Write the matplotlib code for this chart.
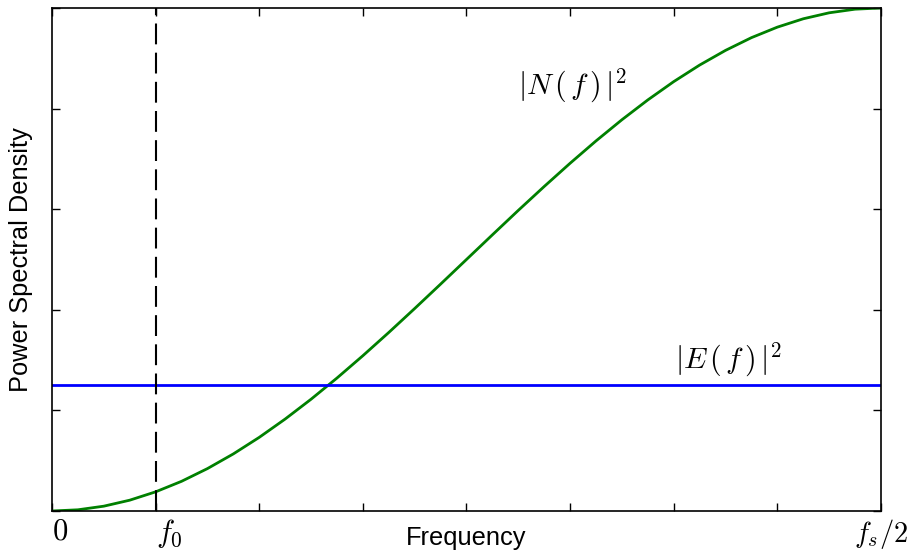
import matplotlib
matplotlib.use("Agg")
import matplotlib.pyplot as plt

plt.rcParams['mathtext.fontset'] = 'cm'
plt.rcParams['font.family'] = ['Liberation Sans', 'DejaVu Sans']

# frequency normalised to fs, from 0 to fs/2
freq = [k / 64 for k in range(33)]
# shaped noise power |N(f)|^2, normalised to its peak
noise_psd = [0.0, 0.0024, 0.0096, 0.0215, 0.0381, 0.0590, 0.0843, 0.1135,
             0.1464, 0.1828, 0.2222, 0.2643, 0.3087, 0.3549, 0.4025, 0.4510,
             0.5, 0.5490, 0.5976, 0.6451, 0.6913, 0.7357, 0.7778, 0.8172,
             0.8536, 0.8865, 0.9157, 0.9410, 0.9619, 0.9785, 0.9904, 0.9976,
             1.0]
# flat error power |E(f)|^2
error_level = 0.25
f0 = 0.0625

xticks = [k / 16 for k in range(9)]
xtick_labels = ['$0$', '$f_0$', '', '', '', '', '', '', '$f_s/2$']
yticks = [0, 0.2, 0.4, 0.6, 0.8, 1.0]

fig = plt.figure(figsize=(9.17, 5.5), dpi=100)
ax = fig.add_axes([0.0567, 0.0709, 0.9040, 0.9146])

ax.plot(freq, noise_psd, color='#008000', lw=2)
ax.axhline(error_level, color='#0000ff', lw=2)
ax.axvline(f0, color='black', lw=1.5, dashes=(10, 4))

ax.text(0.281, 0.845, r'$|N\,(\,f\,)\,|^2$', fontsize=21.5, va='center')
ax.text(0.376, 0.30, r'$|E\,(\,f\,)\,|^2$', fontsize=21.5, va='center')

ax.set_xlim(0, 0.5)
ax.set_ylim(0, 1)
ax.set_xticks(xticks)
ax.set_xticklabels(xtick_labels, fontsize=22)
labels = ax.get_xticklabels()
for lab in labels[:2]:
    lab.set_ha('left')
labels[-1].set_fontsize(20.5)
ax.set_yticks(yticks)
ax.set_yticklabels([])
ax.tick_params(direction='in', length=6, top=True, right=True, width=1)
ax.tick_params(axis='x', pad=4)
for sp in ax.spines.values():
    sp.set_linewidth(1.2)

ax.set_xlabel('Frequency', fontsize=18.3, va='top')
ax.xaxis.set_label_coords(0.5, -0.030)
ax.set_ylabel('Power Spectral Density', fontsize=18.3, va='center')
ax.yaxis.set_label_coords(-0.037, 0.5)

fig.savefig('out.png', dpi=100)
